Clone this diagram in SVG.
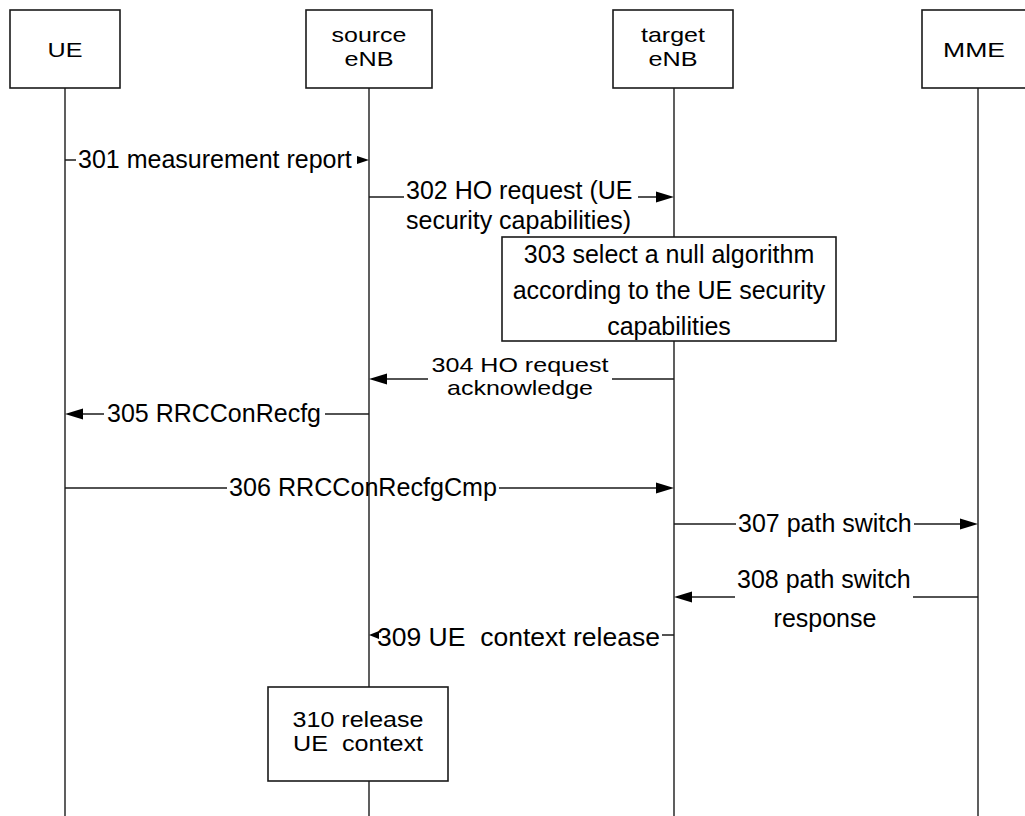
<svg xmlns="http://www.w3.org/2000/svg" width="1025" height="816" viewBox="0 0 1025 816">
  <style>
    .box { fill: #ffffff; stroke: #1a1a1a; stroke-width: 1.6; }
    .life { stroke: #1a1a1a; stroke-width: 1.4; fill: none; }
    .msg { stroke: #1a1a1a; stroke-width: 1.5; fill: none; }
    .head { fill: #000000; stroke: none; }
    text { font-family: "Liberation Sans", Arial, sans-serif; font-size: 25px; fill: #000000; }
    .mid { text-anchor: middle; }
    /* compact, slightly widened labels (two-line captions) */
    .wide { font-size: 21px; }
  </style>

  <rect x="0" y="0" width="1025" height="816" fill="#ffffff"/>

  <!-- lifelines -->
  <g id="lifelines">
    <line class="life" x1="65" y1="88" x2="65" y2="816"/>
    <line class="life" x1="369" y1="88" x2="369" y2="816"/>
    <line class="life" x1="674" y1="88" x2="674" y2="816"/>
    <line class="life" x1="978" y1="88" x2="978" y2="816"/>
  </g>

  <!-- participant heads -->
  <g id="ue">
    <rect class="box" x="10" y="10" width="110" height="78"/>
    <text class="mid wide" x="65" y="57" textLength="35" lengthAdjust="spacingAndGlyphs">UE</text>
  </g>
  <g id="source-enb">
    <rect class="box" x="306" y="10" width="126" height="78"/>
    <text class="mid wide" x="369" y="42" textLength="75" lengthAdjust="spacingAndGlyphs">source</text>
    <text class="mid wide" x="369" y="66" textLength="49" lengthAdjust="spacingAndGlyphs">eNB</text>
  </g>
  <g id="target-enb">
    <rect class="box" x="613" y="10" width="120" height="78"/>
    <text class="mid wide" x="673" y="42" textLength="64" lengthAdjust="spacingAndGlyphs">target</text>
    <text class="mid wide" x="673" y="66" textLength="49" lengthAdjust="spacingAndGlyphs">eNB</text>
  </g>
  <g id="mme">
    <rect class="box" x="922" y="10" width="112" height="78"/>
    <text class="mid wide" x="974" y="57" textLength="62" lengthAdjust="spacingAndGlyphs">MME</text>
  </g>

  <!-- messages -->
  <g id="connectors">
    <!-- 301 UE -> source eNB -->
    <g id="m301">
      <line class="msg" x1="65" y1="160" x2="76" y2="160"/>
      <text x="78" y="168">301 measurement report</text>
      <polygon class="head" points="357,156 357,164 369,160"/>
    </g>
    <!-- 302 source eNB -> target eNB -->
    <g id="m302">
      <line class="msg" x1="369" y1="197" x2="404" y2="197"/>
      <text x="406" y="199">302 HO request (UE</text>
      <text x="406" y="229">security capabilities)</text>
      <line class="msg" x1="638" y1="197" x2="660" y2="197"/>
      <polygon class="head" points="656,191.5 656,202.5 674,197"/>
    </g>
    <!-- 304 target eNB -> source eNB -->
    <g id="m304">
      <line class="msg" x1="612" y1="379" x2="674" y2="379"/>
      <line class="msg" x1="383" y1="379" x2="428" y2="379"/>
      <polygon class="head" points="387,373.5 387,384.5 369,379"/>
      <text class="mid wide" x="520" y="372" textLength="177" lengthAdjust="spacingAndGlyphs">304 HO request</text>
      <text class="mid wide" x="520" y="395" textLength="146" lengthAdjust="spacingAndGlyphs">acknowledge</text>
    </g>
    <!-- 305 source eNB -> UE -->
    <g id="m305">
      <line class="msg" x1="325" y1="414" x2="369" y2="414"/>
      <line class="msg" x1="79" y1="414" x2="104" y2="414"/>
      <polygon class="head" points="83,408.5 83,419.5 65,414"/>
      <text x="107" y="422">305 RRCConRecfg</text>
    </g>
    <!-- 306 UE -> target eNB -->
    <g id="m306">
      <line class="msg" x1="65" y1="488" x2="227" y2="488"/>
      <text x="229" y="496" textLength="268" lengthAdjust="spacingAndGlyphs">306 RRCConRecfgCmp</text>
      <line class="msg" x1="499" y1="488" x2="660" y2="488"/>
      <polygon class="head" points="656,482.5 656,493.5 674,488"/>
    </g>
    <!-- 307 target eNB -> MME -->
    <g id="m307">
      <line class="msg" x1="674" y1="524" x2="736" y2="524"/>
      <text x="738" y="532">307 path switch</text>
      <line class="msg" x1="914" y1="524" x2="964" y2="524"/>
      <polygon class="head" points="960,518.5 960,529.5 978,524"/>
    </g>
    <!-- 308 MME -> target eNB -->
    <g id="m308">
      <line class="msg" x1="913" y1="597" x2="978" y2="597"/>
      <line class="msg" x1="688" y1="597" x2="735" y2="597"/>
      <polygon class="head" points="692,591.5 692,602.5 674,597"/>
      <text x="737" y="588">308 path switch</text>
      <text class="mid" x="825" y="627">response</text>
    </g>
    <!-- 309 target eNB -> source eNB -->
    <g id="m309">
      <line class="msg" x1="662" y1="635" x2="674" y2="635"/>
      <polygon class="head" points="379,631 379,639 369,635"/>
      <text x="377" y="646" xml:space="preserve" textLength="283" lengthAdjust="spacingAndGlyphs">309 UE  context release</text>
    </g>
  </g>

  <!-- local actions -->
  <g id="step303">
    <rect class="box" x="502" y="237" width="334" height="104"/>
    <text class="mid" x="669" y="263">303 select a null algorithm</text>
    <text class="mid" x="669" y="299">according to the UE security</text>
    <text class="mid" x="669" y="335">capabilities</text>
  </g>
  <g id="step310">
    <rect class="box" x="268" y="687" width="180" height="94"/>
    <text class="mid" x="358" y="727" style="font-size:21.5px" textLength="131" lengthAdjust="spacingAndGlyphs">310 release</text>
    <text class="mid" x="358" y="751" style="font-size:21.5px" xml:space="preserve" textLength="130" lengthAdjust="spacingAndGlyphs">UE  context</text>
  </g>
</svg>
